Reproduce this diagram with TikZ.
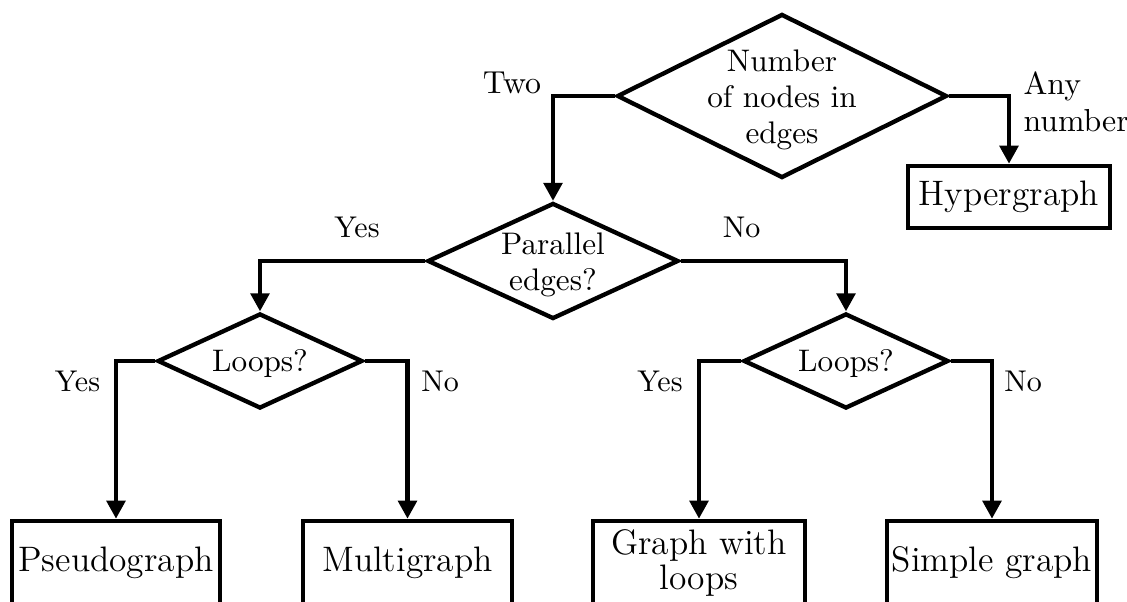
\documentclass[tikz,border=0pt]{standalone}
\usetikzlibrary{shapes.geometric,arrows.meta}
\begin{document}
\begin{tikzpicture}[x=0.33333pt, y=-0.33333pt,
  dia/.style={diamond, draw, line width=1.45pt, inner sep=0pt},
  dtext/.style={inner sep=0pt, align=center, font=\fontsize{10.4}{12}\selectfont},
  box/.style={rectangle, draw, line width=1.55pt, inner sep=0pt, align=center,
    font=\fontsize{11.8}{11.7}\selectfont},
  conn/.style={line width=1.35pt, -{Triangle[length=6pt,width=6.2pt]}},
  lbl/.style={inner sep=0pt, font=\fontsize{10}{12}\selectfont},
  toplbl/.style={inner sep=0pt, font=\fontsize{10.6}{12.4}\selectfont}]
\useasboundingbox (0,0) rectangle (1127,602);

% decision diamonds
\node[dia, minimum width=110pt, minimum height=54.67pt,
  label={[dtext, yshift=-1.3pt]center:Number\\of nodes in\\edges}] (top) at (782,96) {};
\node[dia, minimum width=83.67pt, minimum height=38.67pt,
  label={[dtext, yshift=-1.3pt]center:Parallel\\edges?}] (par) at (553,261) {};
\node[dia, minimum width=68.33pt, minimum height=31.67pt,
  label={[dtext, yshift=-0.7pt]center:Loops?}] (loopsL) at (260,361) {};
\node[dia, minimum width=68.33pt, minimum height=31.67pt,
  label={[dtext, yshift=-0.7pt]center:Loops?}] (loopsR) at (846,361) {};

% outcome boxes
\node[box, minimum width=67.33pt, minimum height=20.67pt] (hyper) at (1009,197) {Hypergraph};
\node[box, minimum width=69.33pt, minimum height=28pt] (pseudo) at (116,563) {Pseudograph};
\node[box, minimum width=69.67pt, minimum height=28pt] (multi) at (407.5,563) {Multigraph};
\node[box, minimum width=70.67pt, minimum height=28pt] (gwl) at (699,563) {Graph with\\loops};
\node[box, minimum width=70pt, minimum height=28pt] (simple) at (992,563) {Simple graph};

% branch labels
\node[toplbl, anchor=base] (two) at (512,94) {Two};
\node[toplbl, anchor=west, align=left] (any) at (1023,102) {Any\\number};
\node[lbl, anchor=base] (yes1) at (357,238) {Yes};
\node[lbl, anchor=base] (no1) at (741.5,238) {No};
\node[lbl, anchor=base] (yes2) at (77.5,392) {Yes};
\node[lbl, anchor=base] (no2) at (440,392) {No};
\node[lbl, anchor=base] (yes3) at (660,392) {Yes};
\node[lbl, anchor=base] (no3) at (1023,392) {No};

% connectors
\draw[conn] (top.west) -| (par.north);
\draw[conn] (top.east) -| (hyper.north);
\draw[conn] (par.west) -| (loopsL.north);
\draw[conn] (par.east) -| (loopsR.north);
\draw[conn] (loopsL.west) -| (pseudo.north);
\draw[conn] (loopsL.east) -| (multi.north);
\draw[conn] (loopsR.west) -| (gwl.north);
\draw[conn] (loopsR.east) -| (simple.north);
\end{tikzpicture}
\end{document}
